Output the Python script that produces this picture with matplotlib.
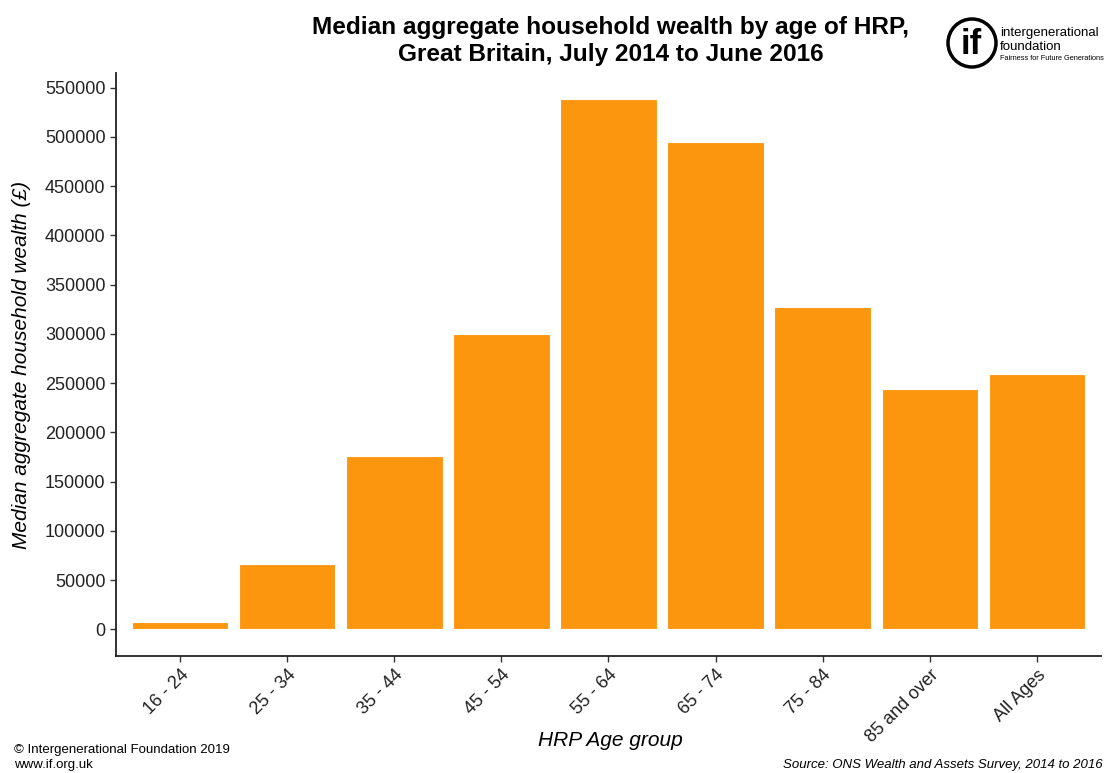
import matplotlib
matplotlib.use("Agg")
import matplotlib.pyplot as plt
from matplotlib.patches import Circle

plt.rcParams['font.family'] = ['Liberation Sans', 'DejaVu Sans']

# data
age_groups = ['16 - 24', '25 - 34', '35 - 44', '45 - 54', '55 - 64',
              '65 - 74', '75 - 84', '85 and over', 'All Ages']
wealth = [8000, 66000, 176000, 300000, 538000, 495000, 327000, 244000, 259000]
yticks = list(range(0, 550001, 50000))

fig = plt.figure(figsize=(11.04, 7.73), dpi=100)
ax = fig.add_axes([0.105, 0.1514, 0.8923, 0.7542])

x = range(len(age_groups))
ax.bar(x, wealth, width=0.9, color='#FC960F', edgecolor='white', linewidth=0.8)

ax.set_xlim(-0.6, len(age_groups) - 0.4)
ax.set_ylim(-26900, 564900)
ax.set_yticks(yticks)
ax.set_yticklabels([str(v) for v in yticks], fontsize=13, color='#222222')
ax.set_xticks(list(x))
ax.set_xticklabels(age_groups, rotation=45, ha='right', rotation_mode='anchor',
                   fontsize=13, color='#222222')
ax.tick_params(axis='both', length=4, width=1, color='#333333')
for s in ['top', 'right']:
    ax.spines[s].set_visible(False)
for s in ['left', 'bottom']:
    ax.spines[s].set_linewidth(1.3)
    ax.spines[s].set_color('#222222')

ax.set_ylabel('Median aggregate household wealth (£)', fontsize=15, style='italic',
              labelpad=10)
fig.text(0.553, 0.035, 'HRP Age group', fontsize=15, style='italic', ha='center')

fig.text(0.553, 0.964, 'Median aggregate household wealth by age of HRP,',
         fontsize=17.6, fontweight='bold', ha='center', va='center')
fig.text(0.553, 0.930, 'Great Britain, July 2014 to June 2016',
         fontsize=17.6, fontweight='bold', ha='center', va='center')

# footer
fig.text(0.013, 0.022, '© Intergenerational Foundation 2019', fontsize=9.5, va='bottom')
fig.text(0.013, 0.003, 'www.if.org.uk', fontsize=9.5, va='bottom')
fig.text(0.999, 0.003, 'Source: ONS Wealth and Assets Survey, 2014 to 2016',
         fontsize=9.5, style='italic', ha='right', va='bottom')

# logo
circ = Circle((972 / 100, (773 - 43) / 100), 0.24, transform=fig.dpi_scale_trans,
              fill=False, linewidth=2.5, edgecolor='black')
fig.add_artist(circ)
fig.text(971 / 1104, 1 - 44 / 773, 'if', fontsize=25, fontweight='bold',
         ha='center', va='center')
fig.text(1000 / 1104, 1 - 33 / 773, 'intergenerational', fontsize=9.5,
         va='center')
fig.text(1000 / 1104, 1 - 47 / 773, 'foundation', fontsize=9.5, va='center')
fig.text(1000 / 1104, 1 - 59 / 773, 'Fairness for Future Generations', fontsize=5.3,
         va='center')

fig.savefig('out.png', dpi=100)
